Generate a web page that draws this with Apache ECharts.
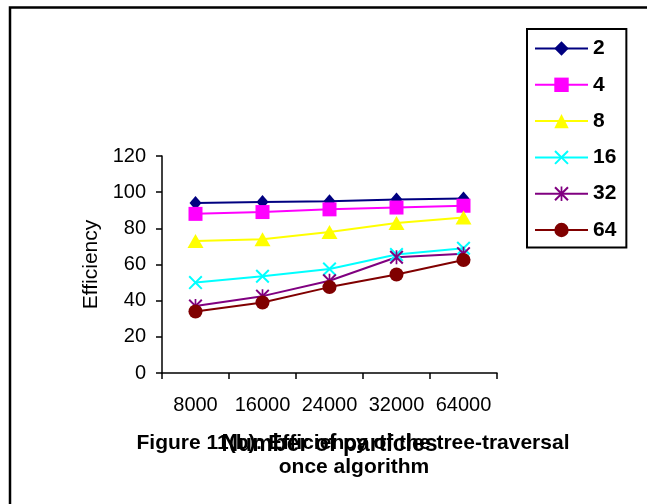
<!DOCTYPE html>
<html>
<head>
<meta charset="utf-8">
<script src="https://cdn.jsdelivr.net/npm/echarts@6/dist/echarts.min.js"></script>
<style>html,body{margin:0;padding:0;background:#fff}#c{width:647px;height:504px}</style>
</head>
<body>
<div id="c"></div>
<script>
var categories = ['8000', '16000', '24000', '32000', '64000'];
var seriesNames = ['2', '4', '8', '16', '32', '64'];
var s2 = [94, 94.5, 95, 96, 96.5];
var s4 = [88, 89, 90.5, 91.5, 92.5];
var s8 = [73, 74, 78, 83, 86];
var s16 = [50, 53.5, 57.5, 65.5, 69];
var s32 = [37, 42.5, 51, 64, 66];
var s64 = [34, 39, 47.5, 54.5, 62.5];
var yTicks = [0, 20, 40, 60, 80, 100, 120];

var FONT = '"Liberation Sans", Arial, sans-serif';
var crossPath = 'path://M0 1L1 0L5 4L9 0L10 1L6 5L10 9L9 10L5 6L1 10L0 9L4 5Z';
var starPath = 'path://M0 1L1 0L5 4L9 0L10 1L6 5L10 9L9 10L5 6L1 10L0 9L4 5Z M4.4 0L5.6 0L5.6 10L4.4 10Z';

var styles = [
  {color: '#000080', symbol: 'diamond', size: [12, 14]},
  {color: '#FF00FF', symbol: 'rect', size: 14},
  {color: '#FFFF00', symbol: 'triangle', size: [16, 14]},
  {color: '#00FFFF', symbol: crossPath, size: 14},
  {color: '#800080', symbol: starPath, size: 14},
  {color: '#800000', symbol: 'circle', size: 14}
];
var values = [s2, s4, s8, s16, s32, s64];

var series = seriesNames.map(function (n, i) {
  return {
    name: n,
    type: 'line',
    data: values[i],
    symbol: styles[i].symbol,
    symbolSize: styles[i].size,
    showAllSymbol: true,
    lineStyle: {color: styles[i].color, width: 2},
    itemStyle: {color: styles[i].color},
    emphasis: {disabled: true},
    animation: false
  };
});

var chart = echarts.init(document.getElementById('c'), null, {renderer: 'canvas'});
chart.setOption({
  backgroundColor: '#fff',
  animation: false,
  grid: {left: 162, right: 150, top: 156, bottom: 131, containLabel: false},
  legend: {
    orient: 'vertical',
    left: 527,
    top: 29,
    data: seriesNames,
    itemWidth: 53,
    itemHeight: 18,
    itemGap: 15.3,
    padding: [9, 10, 7, 7],
    borderColor: '#000',
    borderWidth: 2,
    textStyle: {fontFamily: FONT, fontSize: 21, fontWeight: 'bold', color: '#000'}
  },
  xAxis: {
    type: 'category',
    data: categories,
    boundaryGap: true,
    name: 'Number of particles',
    nameLocation: 'middle',
    nameGap: 60,
    nameTextStyle: {fontFamily: FONT, fontSize: 23, fontWeight: 'bold', color: '#000'},
    axisLine: {lineStyle: {color: '#000', width: 1.5}},
    axisTick: {show: true, interval: 0, length: 6, lineStyle: {color: '#000', width: 1.5}},
    axisLabel: {interval: 0, fontFamily: FONT, fontSize: 20, color: '#000', margin: 22},
    splitLine: {show: false}
  },
  yAxis: {
    type: 'value',
    min: yTicks[0],
    max: yTicks[yTicks.length - 1],
    interval: 20,
    name: 'Efficiency',
    nameLocation: 'middle',
    nameRotate: 90,
    nameGap: 58,
    nameTextStyle: {fontFamily: FONT, fontSize: 21, color: '#000'},
    axisLine: {show: true, lineStyle: {color: '#000', width: 1.5}},
    axisTick: {show: true, length: 6, lineStyle: {color: '#000', width: 1.5}},
    axisLabel: {fontFamily: FONT, fontSize: 20, color: '#000', margin: 16},
    splitLine: {show: false}
  },
  graphic: [
    {type: 'polyline', shape: {points: [[10, 504], [10, 7.5], [647, 7.5]]}, style: {stroke: '#000', lineWidth: 2.5, fill: null}, silent: true},
    {type: 'text', x: 353, y: 443, style: {text: 'Figure 11(b): Efficiency of the tree-traversal', font: 'bold 21px ' + FONT, fill: '#000', align: 'center', verticalAlign: 'middle'}, silent: true},
    {type: 'text', x: 354, y: 467, style: {text: 'once algorithm', font: 'bold 21px ' + FONT, fill: '#000', align: 'center', verticalAlign: 'middle'}, silent: true}
  ],
  series: series
});
</script>
</body>
</html>
